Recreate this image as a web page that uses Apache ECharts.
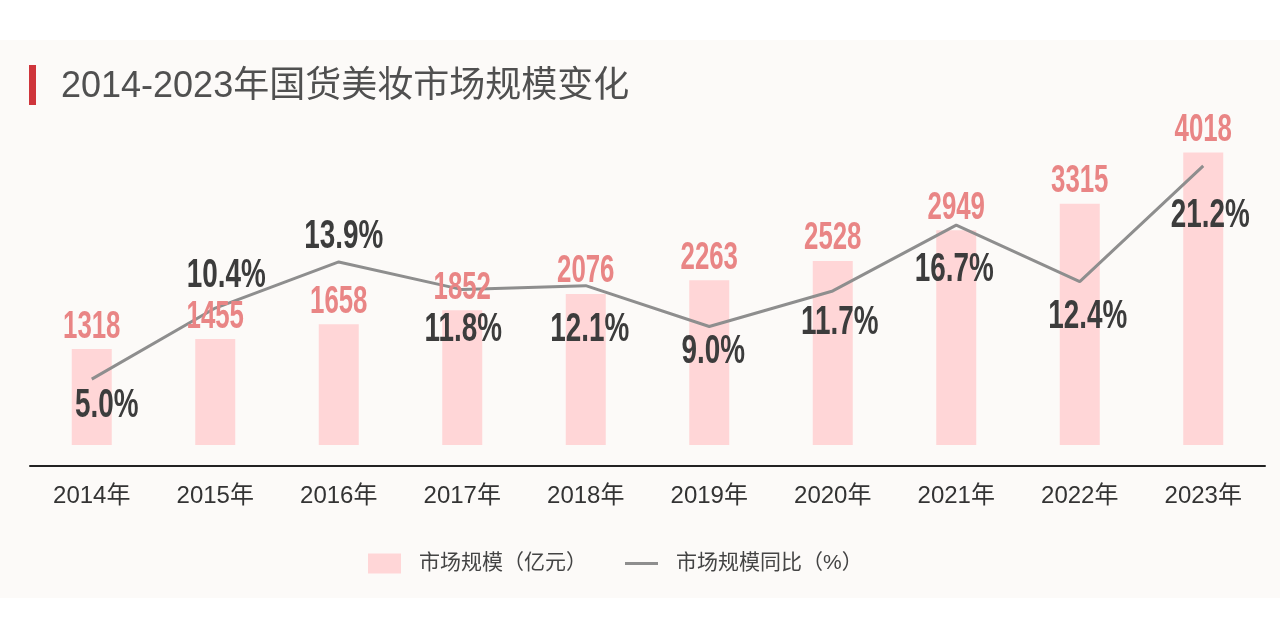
<!DOCTYPE html>
<html>
<head>
<meta charset="utf-8">
<script src="https://cdn.jsdelivr.net/npm/echarts@6/dist/echarts.min.js"></script>
<style>
  html, body { margin: 0; padding: 0; background: #fff; }
  #chart { width: 1280px; height: 639px; }
</style>
</head>
<body>
<div id="chart"></div>
<script>
// 数据
var years = ["2014年", "2015年", "2016年", "2017年", "2018年", "2019年", "2020年", "2021年", "2022年", "2023年"];
var marketSize = [1318, 1455, 1658, 1852, 2076, 2263, 2528, 2949, 3315, 4018]; // 亿元
var yoyRate = [5.0, 10.4, 13.9, 11.8, 12.1, 9.0, 11.7, 16.7, 12.4, 21.2]; // %

// 百分比标签相对折线点的偏移（样式）
var rateLabelOffset = [[15, 27], [11, -32], [5, -25], [1, 40], [4, 44], [4, 25], [7, 32], [-2, 45], [8, 35], [7, 50]];

var numFont = '"Liberation Sans", "DejaVu Sans", sans-serif';
var cjkFont = '"Liberation Sans", "Noto Sans CJK SC", sans-serif';

var chart = echarts.init(document.getElementById("chart"));

// 窄体数字标签：用横向压缩的文字模拟
function condensedLabel(color, size, dy, fmt, offsets) {
  return function (params, api) {
    var i = api.value(0);
    var p = api.coord([i, api.value(1)]);
    var off = offsets ? offsets[i] : [0, dy];
    return {
      type: "text",
      x: p[0] + off[0],
      y: p[1] + off[1],
      scaleX: 0.68,
      z2: 10,
      style: {
        text: fmt(api.value(1)),
        fontSize: size,
        fontWeight: "bold",
        fontFamily: numFont,
        fill: color,
        align: "center",
        verticalAlign: "middle"
      }
    };
  };
}

chart.setOption({
  backgroundColor: "#ffffff",
  animation: false,
  graphic: [
    { type: "rect", z: -10, shape: { x: 0, y: 40, width: 1280, height: 558 }, style: { fill: "#fcfaf8" } },
    { type: "rect", shape: { x: 29, y: 65, width: 7, height: 40 }, style: { fill: "#cf353b" } }
  ],
  title: {
    text: "2014-2023年国货美妆市场规模变化",
    left: 56,
    top: 64,
    textStyle: { fontSize: 36, fontWeight: "normal", color: "#505050", fontFamily: cjkFont }
  },
  legend: {
    left: 363,
    top: 548,
    itemWidth: 33,
    itemHeight: 20,
    itemGap: 38,
    textStyle: { fontSize: 21, color: "#444", fontFamily: cjkFont, padding: [0, 0, 0, 13] },
    data: [
      { name: "市场规模（亿元）", icon: "rect" },
      { name: "市场规模同比（%）", icon: "path://M0,0H33V3H0Z" }
    ]
  },
  grid: { left: 30, right: 15, top: 100, bottom: 194 },
  xAxis: {
    type: "category",
    data: years,
    offset: 21,
    axisLine: { onZero: false, lineStyle: { color: "#222", width: 2 } },
    axisTick: { show: false },
    axisLabel: { fontSize: 24, color: "#333", margin: 18, fontFamily: cjkFont }
  },
  yAxis: [
    { type: "value", min: 0, max: 4740, show: false, splitLine: { show: false } },
    { type: "value", min: 0, max: 26.2, show: false, splitLine: { show: false } }
  ],
  series: [
    {
      name: "市场规模（亿元）",
      type: "bar",
      barWidth: 40,
      data: marketSize,
      itemStyle: { color: "#ffd6d7" }
    },
    {
      name: "市场规模同比（%）",
      type: "line",
      yAxisIndex: 1,
      symbol: "none",
      lineStyle: { color: "#8e8e8e", width: 3 },
      itemStyle: { color: "#8e8e8e" },
      z: 5,
      data: yoyRate
    },
    {
      type: "custom",
      name: "规模标签",
      z: 6,
      data: marketSize.map(function (v, i) { return [i, v]; }),
      encode: { x: 0, y: 1 },
      renderItem: condensedLabel("#e98585", 38, -22, function (v) { return String(v); })
    },
    {
      type: "custom",
      name: "同比标签",
      yAxisIndex: 1,
      z: 7,
      data: yoyRate.map(function (v, i) { return [i, v]; }),
      encode: { x: 0, y: 1 },
      renderItem: condensedLabel("#3c3c3c", 41, 0, function (v) { return v.toFixed(1) + "%"; }, rateLabelOffset)
    }
  ]
});
</script>
</body>
</html>
